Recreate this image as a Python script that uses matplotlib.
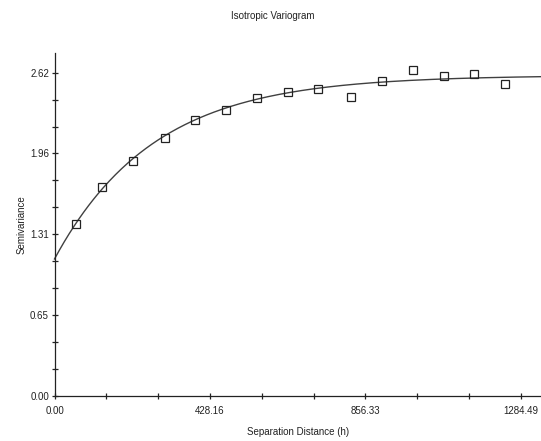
import numpy as np
import matplotlib
matplotlib.use("Agg")
import matplotlib.pyplot as plt
from matplotlib.ticker import FixedLocator, FixedFormatter

# Experimental semivariogram (lag class centres and semivariance)
lag_distance = [58.4, 131.7, 217.1, 304.4, 387.1, 472.5, 557.1, 642.5,
                726.8, 816.0, 901.4, 988.5, 1073.1, 1155.7, 1241.1]
semivariance = [1.395, 1.690, 1.901, 2.090, 2.236, 2.317, 2.412, 2.461,
                2.485, 2.420, 2.555, 2.639, 2.596, 2.607, 2.528]

# Fitted exponential model
nugget = 1.109
sill = 2.599
effective_range = 820.0

x_ticks = [0.0, 428.163, 856.327, 1284.49]
x_tick_labels = ["0.00", "428.16", "856.33", "1284.49"]
y_ticks = [0.0, 0.655, 1.31, 1.965, 2.62]
y_tick_labels = ["0.00", "0.65", "1.31", "1.96", "2.62"]

x_max = 1340.0
y_max = 2.78

plt.rcParams["font.family"] = ["Liberation Sans", "DejaVu Sans"]

fig = plt.figure(figsize=(5.41, 4.41), dpi=100)
ax = fig.add_axes([54.5 / 541, 45.3 / 441, (541 - 54.5) / 541, (395.7 - 53) / 441])

h = np.linspace(0, x_max, 400)
gamma = nugget + (sill - nugget) * (1 - np.exp(-3 * h / effective_range))
ax.plot(h, gamma, color="#404040", lw=1.0, clip_on=False)

ax.plot(lag_distance, semivariance, linestyle="none", marker="s",
        markersize=6.0, markerfacecolor="none", markeredgecolor="#222222",
        markeredgewidth=0.9, clip_on=False)

ax.set_xlim(0, x_max)
ax.set_ylim(0, y_max)

ax.xaxis.set_major_locator(FixedLocator(x_ticks))
ax.xaxis.set_major_formatter(FixedFormatter(x_tick_labels))
ax.xaxis.set_minor_locator(FixedLocator(np.arange(0, x_max, x_ticks[1] / 3)))
ax.yaxis.set_major_locator(FixedLocator(y_ticks))
ax.yaxis.set_major_formatter(FixedFormatter(y_tick_labels))
ax.yaxis.set_minor_locator(FixedLocator(np.arange(0, y_max, y_ticks[1] / 3)))

for side in ("top", "right"):
    ax.spines[side].set_visible(False)
for side in ("left", "bottom"):
    ax.spines[side].set_color("#222222")
    ax.spines[side].set_linewidth(0.9)

ax.tick_params(which="both", direction="inout", length=5, width=0.9,
               color="#222222", labelsize=7, labelcolor="#222222", pad=1.5)
ax.tick_params(axis="x", which="both", pad=5)

ax.set_xlabel("Separation Distance (h)", fontsize=7, color="#222222", labelpad=8)
ax.set_ylabel("Semivariance", fontsize=7, color="#222222", labelpad=2.5)
fig.suptitle("Isotropic Variogram", fontsize=7, color="#222222", x=0.505, y=0.975)

fig.savefig("out.png", dpi=100)
